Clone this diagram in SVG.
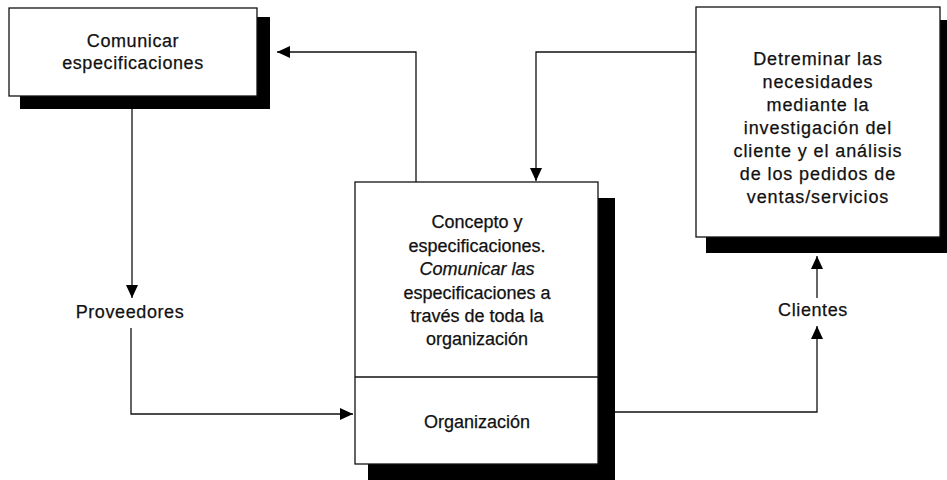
<svg xmlns="http://www.w3.org/2000/svg" width="947" height="480" viewBox="0 0 947 480">
  <style>
    text { font-family: "Liberation Sans", Arial, sans-serif; font-size: 18px; fill: #111; stroke: #111; stroke-width: 0.25; text-anchor: middle; }
    .box { fill: #fff; stroke: #111; stroke-width: 1.3; }
    .shadow { fill: #000; }
    .conn { fill: none; stroke: #111; stroke-width: 1.3; marker-end: url(#arrow); }
    .wide { letter-spacing: 0.6px; }
    .wider { letter-spacing: 0.9px; }
  </style>
  <defs>
    <marker id="arrow" markerUnits="userSpaceOnUse" markerWidth="14" markerHeight="13" refX="13" refY="6" orient="auto">
      <path d="M0,0 L13,6 L0,12 z" fill="#000"/>
    </marker>
  </defs>
  <rect width="947" height="480" fill="#fff"/>

  <!-- Connectors -->
  <g id="connectors">
    <path class="conn" d="M416,182 V52 H277"/>
    <path class="conn" d="M696,52 H536 V181"/>
    <path class="conn" d="M132,109 V298"/>
    <path class="conn" d="M131,328 V414 H353"/>
    <path class="conn" d="M615,412 H817 V326"/>
    <path class="conn" d="M817,298 V256"/>
  </g>

  <!-- Communicate specifications -->
  <g id="node-comunicar">
    <rect class="shadow" x="20" y="17" width="250" height="92"/>
    <rect class="box" x="9" y="8" width="248" height="88"/>
    <text class="wide" x="133" y="47">Comunicar</text>
    <text class="wide" x="133" y="69">especificaciones</text>
  </g>

  <!-- Determine needs -->
  <g id="node-necesidades">
    <rect class="shadow" x="706" y="20" width="250" height="233"/>
    <rect class="box" x="696" y="7" width="244" height="230"/>
    <text class="wider" x="818" y="65">Detreminar las</text>
    <text class="wider" x="818" y="88">necesidades</text>
    <text class="wider" x="818" y="111">mediante la</text>
    <text class="wider" x="818" y="134">investigación del</text>
    <text class="wider" x="818" y="157">cliente y el análisis</text>
    <text class="wider" x="818" y="180">de los pedidos de</text>
    <text class="wider" x="818" y="203">ventas/servicios</text>
  </g>

  <!-- Organization: concept and specifications -->
  <g id="node-organizacion">
    <rect class="shadow" x="368" y="198" width="247" height="290"/>
    <rect class="box" x="355" y="182" width="243" height="282"/>
    <line x1="355" y1="377" x2="598" y2="377" stroke="#111" stroke-width="1.3"/>
    <text x="477" y="228">Concepto y</text>
    <text x="477" y="251.5">especificaciones.</text>
    <text x="477" y="275" font-style="italic">Comunicar las</text>
    <text x="477" y="298.5">especificaciones a</text>
    <text x="477" y="322">través de toda la</text>
    <text x="477" y="345">organización</text>
    <text x="477" y="428">Organización</text>
  </g>

  <!-- Suppliers -->
  <g id="node-proveedores">
    <text class="wide" x="130" y="318">Proveedores</text>
  </g>

  <!-- Customers -->
  <g id="node-clientes">
    <text class="wide" x="813" y="316">Clientes</text>
  </g>
</svg>
